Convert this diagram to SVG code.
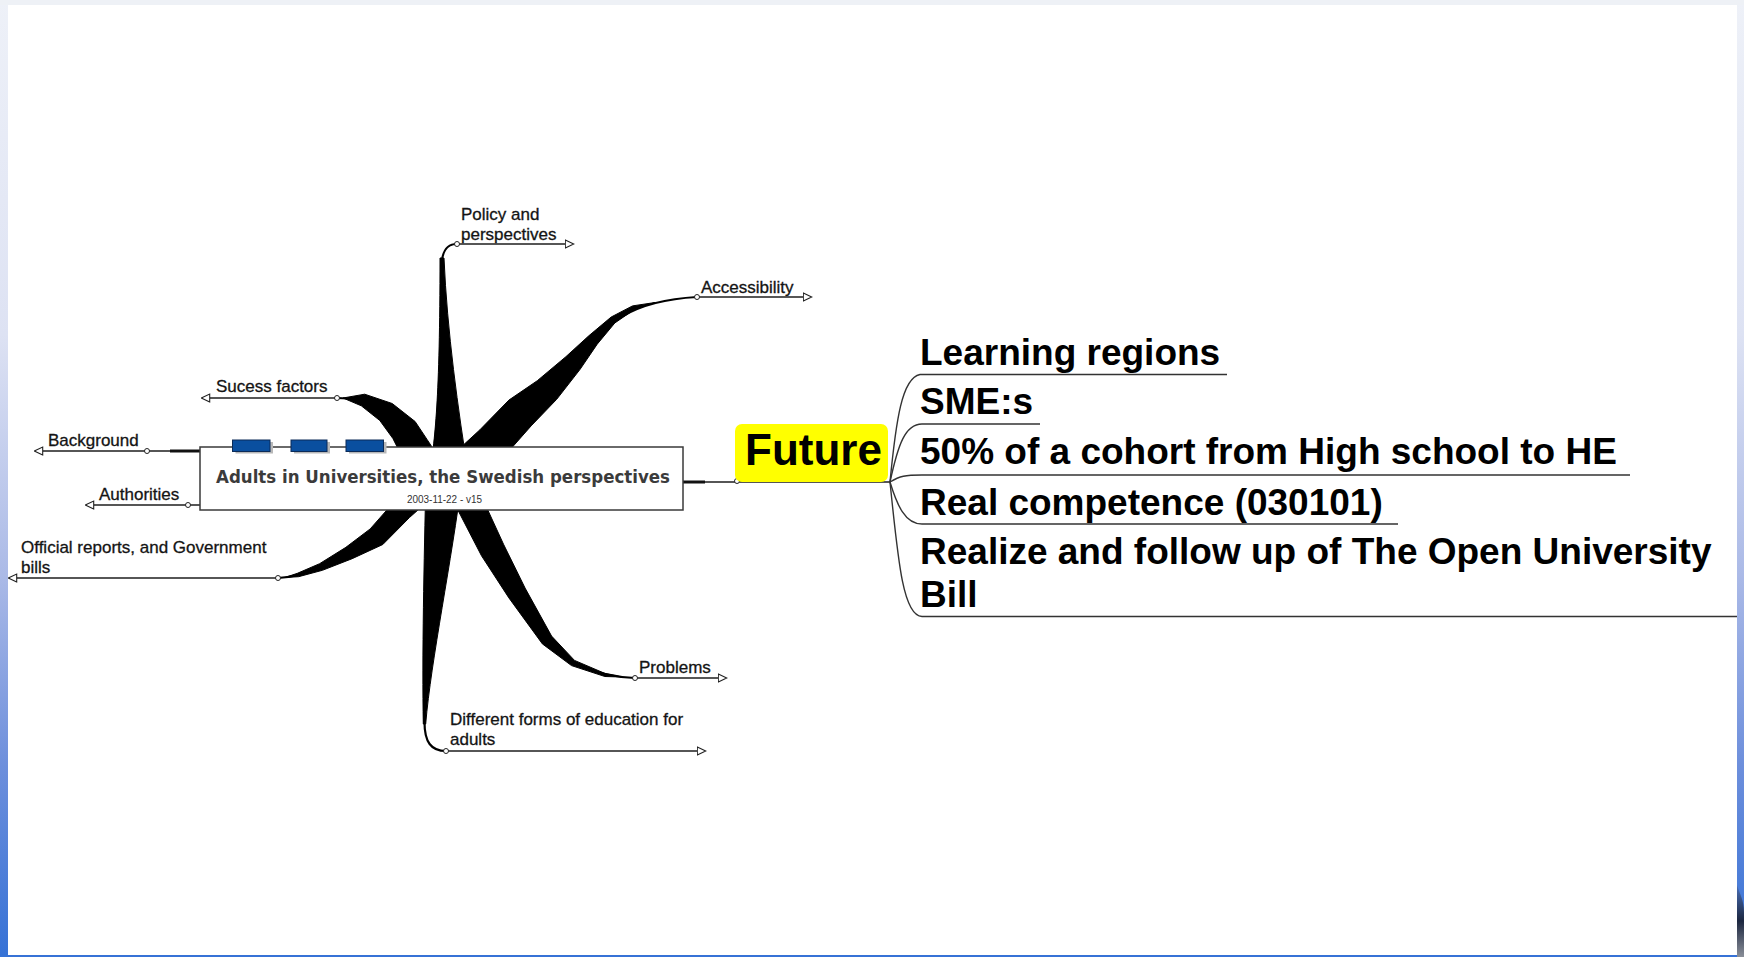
<svg xmlns="http://www.w3.org/2000/svg" width="1744" height="957" viewBox="0 0 1744 957">
<defs>
<linearGradient id="frame" x1="0" y1="0" x2="0" y2="1">
<stop offset="0" stop-color="#eef1f8"/>
<stop offset="0.35" stop-color="#dde2f3"/>
<stop offset="0.6" stop-color="#abbae7"/>
<stop offset="0.8" stop-color="#6d8fdc"/>
<stop offset="1" stop-color="#3672d6"/>
</linearGradient>
<linearGradient id="blob" x1="0" y1="0" x2="0" y2="1">
<stop offset="0" stop-color="#4a6fb8"/>
<stop offset="0.5" stop-color="#1c2740"/>
<stop offset="1" stop-color="#8a8f99"/>
</linearGradient>
<marker id="arr" viewBox="0 0 10 10" refX="0.5" refY="5" markerWidth="10" markerHeight="10" markerUnits="userSpaceOnUse" orient="auto">
<path d="M0.8,1 L9.2,5 L0.8,9 Z" fill="#fff" stroke="#222" stroke-width="1.1"/>
</marker>
<style>
.lbl{font-family:"Liberation Sans",Arial,sans-serif;font-size:17px;fill:#141414;stroke:#141414;stroke-width:0.3}
.big{font-family:"Liberation Sans",Arial,sans-serif;font-size:37px;font-weight:bold;fill:#000}
.ln{fill:none;stroke:#1e1e1e;stroke-width:1.5}
.lnA{fill:none;stroke:#1e1e1e;stroke-width:1.5;marker-end:url(#arr)}
.stub{fill:none;stroke:#111;stroke-width:3}
.spk{fill:#000;stroke:#000;stroke-width:1;stroke-linejoin:round}
.tail{fill:none;stroke:#000;stroke-width:2.2;stroke-linecap:round}
.dot{fill:#fff;stroke:#222;stroke-width:1}
.br{fill:none;stroke:#333;stroke-width:1.4}
.blu{fill:#0a4f9f;stroke:#0b2b58;stroke-width:1}
.shd{fill:#b8b8b8}
</style>
</defs>

<!-- frame -->
<rect x="0" y="0" width="1744" height="957" fill="url(#frame)"/>
<rect x="0" y="0" width="1744" height="5" fill="#eef1f6"/>
<path d="M1737,885 C1740,895 1744,900 1744,912 L1744,957 L1737,957 Z" fill="url(#blob)"/>
<rect x="8" y="5" width="1729" height="950" fill="#fff"/>

<!-- connectors -->
<g id="connectors">
  <!-- spokes -->
  <path class="spk" d="M429,478 C435,440 440,400 440,258 L444,258 C447,330 458,410 469,478 Z"/>
  <path class="tail" d="M441.8,280 L441.5,268 C441.5,252 446,244 457,244"/>

  <path class="spk" d="M474.6,494.5 L506.1,454.2 L531.1,425.9 L556.7,399.3 L580.1,369.3 L597.2,344.2 L614.8,323 L633.5,310.1 L655,302.5 L632.5,305.9 L611.2,317 L588.8,335.8 L565.9,356.7 L537.3,380.7 L508.9,400.1 L479.9,429.8 L445.4,461.5 Z"/>
  <path class="tail" d="M575,361 C605,327 625,301 697,297"/>

  <path class="spk" d="M446.7,469.4 L427,439.4 L415.1,421.5 L392.2,403.5 L364.7,394.2 L343,398 L361.3,405.8 L379.8,420.5 L392.9,438.5 L401,454.6 L417.3,486.6 Z"/>
  <path class="tail" d="M404,430 C392,412 372,398 337,398"/>

  <path class="spk" d="M420.6,467.7 L393.5,502.5 L370.2,528.9 L345.9,547.3 L319.6,563.7 L297.4,573.3 L285,577.5 L298.6,576.7 L322.4,570.3 L352.1,558.7 L382.8,544.5 L409.5,517.5 L442.4,488.3 Z"/>
  <path class="tail" d="M376.5,536.7 C345,556 315,576 278,578"/>

  <path class="spk" d="M426,478 C424,560 422,660 423.3,724 L425.7,724 C431,660 452,560 462,478 Z"/>
  <path class="tail" d="M424.5,690 L424.5,722 C424.5,742 431,751 446,751"/>

  <path class="spk" d="M444.5,484.6 L460.9,515.9 L481.5,555.8 L508.9,597.9 L542.4,643.9 L571.5,665.6 L604.9,676.5 L622,677 L605.1,673.5 L574.5,660.4 L551.6,636.1 L525.1,588.1 L503.5,544.2 L485.1,504.1 L471.5,471.4 Z"/>
  <path class="tail" d="M547,640 C568,662 592,676 635,678"/>

  <!-- horizontal leader lines with arrows -->
  <path class="lnA" d="M457,244 H565"/>
  <path class="lnA" d="M697,297 H803"/>
  <path class="lnA" d="M337,398 H210"/>
  <path class="lnA" d="M170,451 H43"/>
  <path class="stub" d="M170,451 H200"/>
  <path class="lnA" d="M200,505 H94"/>
  <path class="lnA" d="M278,578 H17"/>
  <path class="lnA" d="M635,678 H718"/>
  <path class="lnA" d="M446,751 H697"/>

  <!-- center to Future -->
  <path class="stub" d="M683,482 H705"/>
  <path class="ln" d="M705,482 H891"/>

  <!-- Future sub-branches -->
  <path class="br" d="M890,482 C896,420 902,378 920,374.5 H1227"/>
  <path class="br" d="M890,482 C898,445 905,424 922,424 H1040"/>
  <path class="br" d="M890,482 C900,476 905,475 922,475 H1630"/>
  <path class="br" d="M890,482 C897,505 905,524 922,524 H1398"/>
  <path class="br" d="M890,482 C898,560 903,616 922,616.5 H1737"/>

  <!-- junction dots -->
  <circle class="dot" cx="457" cy="244" r="2.5"/>
  <circle class="dot" cx="697" cy="297" r="2.5"/>
  <circle class="dot" cx="337" cy="398" r="2.5"/>
  <circle class="dot" cx="147" cy="451" r="2.5"/>
  <circle class="dot" cx="188" cy="505" r="2.5"/>
  <circle class="dot" cx="278" cy="578" r="2.5"/>
  <circle class="dot" cx="635" cy="678" r="2.5"/>
  <circle class="dot" cx="446" cy="751" r="2.5"/>
  <circle class="dot" cx="737" cy="481" r="2.5"/>
</g>

<!-- central node -->
<g id="center">
  <rect x="200" y="447" width="483" height="63" fill="#fff" stroke="#3a3a3a" stroke-width="1.5"/>
  <rect class="shd" x="235.5" y="442" width="37.5" height="11.5"/>
  <rect class="shd" x="294" y="442" width="36" height="11.5"/>
  <rect class="shd" x="349" y="442" width="37.5" height="11.5"/>
  <rect class="blu" x="232.5" y="440" width="37.5" height="11.5"/>
  <rect class="blu" x="291" y="440" width="36" height="11.5"/>
  <rect class="blu" x="346" y="440" width="37.5" height="11.5"/>
  <text x="216" y="483" textLength="454" lengthAdjust="spacingAndGlyphs" style="font-family:'DejaVu Sans',Verdana,sans-serif;font-size:17px;font-weight:bold;fill:#3b3b3b">Adults in Universities, the Swedish perspectives</text>
  <text x="407" y="503" textLength="75" lengthAdjust="spacingAndGlyphs" style="font-family:'Liberation Sans',Arial,sans-serif;font-size:10px;fill:#333">2003-11-22 - v15</text>
</g>

<g id="n-policy"><text class="lbl" x="461" y="220">Policy and</text><text class="lbl" x="461" y="240">perspectives</text></g>
<g id="n-access"><text class="lbl" x="701" y="293">Accessibility</text></g>
<g id="n-success"><text class="lbl" x="216" y="392">Sucess factors</text></g>
<g id="n-background"><text class="lbl" x="48" y="446">Background</text></g>
<g id="n-authorities"><text class="lbl" x="99" y="500">Authorities</text></g>
<g id="n-official"><text class="lbl" x="21" y="553">Official reports, and Government</text><text class="lbl" x="21" y="573">bills</text></g>
<g id="n-problems"><text class="lbl" x="639" y="673">Problems</text></g>
<g id="n-forms"><text class="lbl" x="450" y="725">Different forms of education for</text><text class="lbl" x="450" y="745">adults</text></g>

<g id="n-future">
  <rect x="735" y="424" width="153" height="58" rx="7" fill="#ffff00"/>
  <text x="745" y="465" style="font-family:'Liberation Sans',Arial,sans-serif;font-size:44px;font-weight:bold;fill:#000">Future</text>
</g>

<g id="n-learning"><text class="big" x="920" y="365">Learning regions</text></g>
<g id="n-sme"><text class="big" x="920" y="413.5">SME:s</text></g>
<g id="n-cohort"><text class="big" x="920" y="464">50% of a cohort from High school to HE</text></g>
<g id="n-real"><text class="big" x="920" y="515">Real competence (030101)</text></g>
<g id="n-open"><text class="big" x="920" y="564">Realize and follow up of The Open University</text><text class="big" x="920" y="607">Bill</text></g>
</svg>
